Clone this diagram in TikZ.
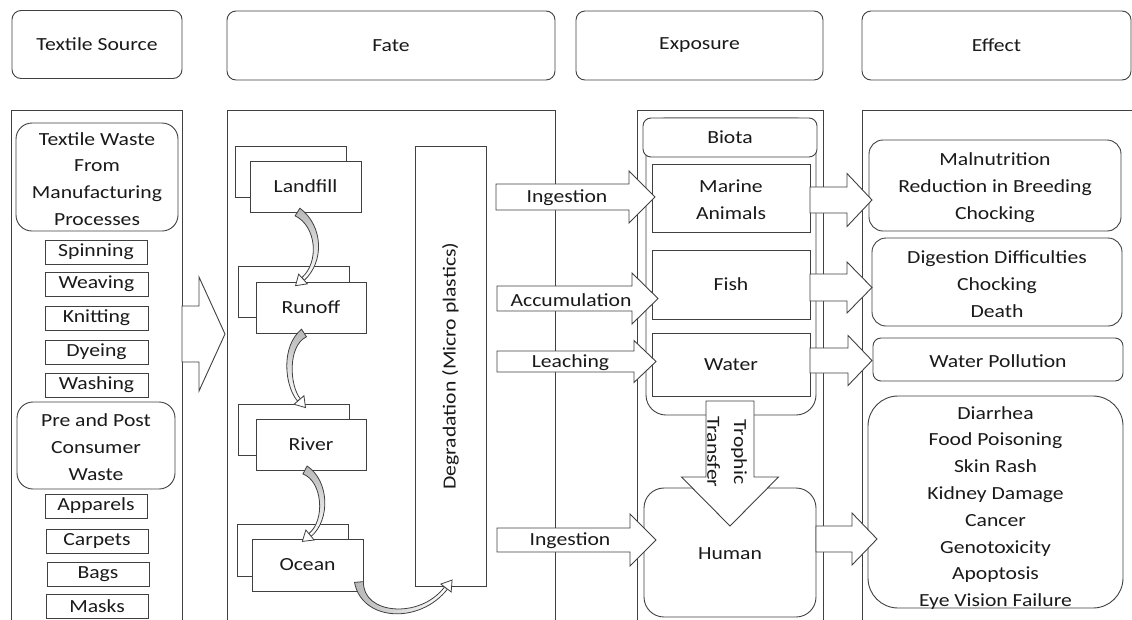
\documentclass[tikz,border=0pt]{standalone}
\usepackage{fontspec}
\setmainfont{Carlito}[FakeStretch=1.17]
\usetikzlibrary{calc}
\definecolor{lc}{HTML}{404040}
\definecolor{tc}{HTML}{1A1A1A}
\tikzset{
  nb/.style={draw=lc, line width=0.9pt, fill=white, text=tc, inner sep=0pt, align=center,
    font=\fontsize{18.5}{26.8}\selectfont},
  hdr/.style={nb, rounded corners=9pt},
  sq/.style={nb},
  rb/.style={nb, rounded corners=14pt},
  panel/.style={draw=lc, line width=0.9pt},
  barrow/.style={draw=lc, line width=0.9pt, fill=white, line join=miter},
  lbl/.style={text=tc, inner sep=0pt, align=center, font=\fontsize{18.5}{26.8}\selectfont},
  carr/.style={draw=lc, line width=0.8pt},
}
% horizontal block arrow: tail x, head-base x, tip x, centre y, shaft half, head half
\newcommand{\harr}[6]{\draw[barrow] (#1,#4-#5) -- (#2,#4-#5) -- (#2,#4-#6) -- (#3,#4) -- (#2,#4+#6) -- (#2,#4+#5) -- (#1,#4+#5) -- cycle;}
% curved arrow: start, control 1, control 2, end (head base), shading options
\newcommand{\curvearr}[5]{%
  \path[carr, #5]
    ($(#1)!4.5pt!90:(#2)$) .. controls ($(#2)!3.5pt!90:(#3)$) and ($(#3)!2.5pt!-90:(#2)$) .. ($(#4)!1.8pt!-90:(#3)$)
    -- ($(#4)!1.8pt!90:(#3)$) .. controls ($(#3)!2.5pt!90:(#2)$) and ($(#2)!3.5pt!-90:(#3)$) .. ($(#1)!4.5pt!-90:(#2)$) -- cycle;
  \draw[carr, fill=white, line join=miter] ($(#4)!6.5pt!90:(#3)$) -- ($(#4)!-10pt!(#3)$) -- ($(#4)!6.5pt!-90:(#3)$) -- cycle;
}
\begin{document}
\begin{tikzpicture}[x=1pt,y=-1pt]
\path[use as bounding box] (0,0) rectangle (1132,619);
\clip (0,0) rectangle (1132,619);

% headers
\node[hdr, minimum width=170, minimum height=68] (h1) at (97,44.5) {Textile Source};
\node[hdr, minimum width=328, minimum height=69] (h2) at (391,45.5) {Fate};
\node[hdr, minimum width=247, minimum height=69] (h3) at (699.5,45.5) {Exposure};
\node[hdr, minimum width=269, minimum height=69] (h4) at (996.5,45.5) {Effect};

% column panels (open at the bottom)
\draw[panel] (11,625) -- (11,110) -- (182,110) -- (182,625);
\draw[panel] (227,625) -- (227,110) -- (555,110) -- (555,625);
\draw[panel] (637,625) -- (637,110) -- (823,110) -- (823,625);
\draw[panel] (862,625) -- (862,110) -- (1135,110);

% column 1
\node[rb, rounded corners=16pt, minimum width=162, minimum height=108] (tw) at (97,177) {};
\node[lbl] (twt) at (97,179) {Textile Waste\\From\\Manufacturing\\Processes};
\node[sq, minimum width=102, minimum height=24] (spin) at (96,252) {Spinning};
\node[sq, minimum width=103, minimum height=24] (weav) at (96.5,284) {Weaving};
\node[sq, minimum width=103, minimum height=24] (knit) at (96.5,318) {Knitting};
\node[sq, minimum width=103, minimum height=24] (dye) at (96.5,352) {Dyeing};
\node[sq, minimum width=103, minimum height=24] (wash) at (96.5,385) {Washing};
\node[rb, rounded corners=16pt, minimum width=158, minimum height=87] (pp) at (96,445.5) {};
\node[lbl] (ppt) at (96,447) {Pre and Post\\Consumer\\Waste};
\node[sq, minimum width=102, minimum height=24] (app) at (96,506) {Apparels};
\node[sq, minimum width=102, minimum height=24] (carp) at (97,541) {Carpets};
\node[sq, minimum width=102, minimum height=24] (bags) at (98,574) {Bags};
\node[sq, minimum width=102, minimum height=24] (masks) at (97,606) {Masks};

% big arrow source -> fate
\harr{182}{199}{225}{334}{28}{57}

% column 2
\node[sq, minimum width=111, minimum height=51] (lfb) at (291,171.5) {};
\node[sq, minimum width=111, minimum height=51] (lf) at (305.5,186.5) {Landfill};
\node[sq, minimum width=111, minimum height=51] (rob) at (293.5,291.5) {};
\node[sq, minimum width=110, minimum height=51] (ro) at (311,307.5) {Runoff};
\node[sq, minimum width=111, minimum height=51] (rib) at (293.5,429.5) {};
\node[sq, minimum width=110, minimum height=51] (ri) at (311,444.5) {River};
\node[sq, minimum width=111, minimum height=52] (ocb) at (292.5,550) {};
\node[sq, minimum width=111, minimum height=52] (oc) at (307.5,565) {Ocean};
\node[sq, minimum width=71, minimum height=440] (degr) at (450.5,366) {};
\node[lbl, rotate=90] (degrt) at (degr.center) {Degradation (Micro plastics)};

% curved arrows
\coordinate (a1s) at (297.5,212); \coordinate (a1c) at (320,226); \coordinate (a1d) at (322,262); \coordinate (a1e) at (303,279);
\curvearr{a1s}{a1c}{a1d}{a1e}{top color=black!28, bottom color=white}
\coordinate (a2s) at (304,333); \coordinate (a2c) at (284,346); \coordinate (a2d) at (287,386); \coordinate (a2e) at (299,400);
\curvearr{a2s}{a2c}{a2d}{a2e}{top color=black!28, bottom color=white}
\coordinate (a3s) at (305,470); \coordinate (a3c) at (326,481); \coordinate (a3d) at (328,520); \coordinate (a3e) at (310,535);
\curvearr{a3s}{a3c}{a3d}{a3e}{top color=black!28, bottom color=white}
\coordinate (a4s) at (359,582); \coordinate (a4c) at (362,618); \coordinate (a4d) at (420,622); \coordinate (a4e) at (446,588);
\curvearr{a4s}{a4c}{a4d}{a4e}{left color=black!28, right color=white}

% column 3
\node[rb, rounded corners=20pt, minimum width=170, minimum height=297] (grp) at (731,266.5) {};
\node[rb, rounded corners=8pt, minimum width=174, minimum height=39] (biota) at (730,137.5) {Biota};
\node[sq, minimum width=158, minimum height=68] (marine) at (731,198) {};
\node[lbl] (marinet) at (731,200) {Marine\\Animals};
\node[sq, minimum width=158, minimum height=69] (fish) at (731,284.5) {Fish};
\node[sq, minimum width=158, minimum height=63] (water) at (731,364.5) {Water};
\node[rb, rounded corners=20pt, minimum width=172, minimum height=129] (human) at (730,552.5) {};
\node[lbl] (humant) at (730,554) {Human};

% trophic transfer arrow
\draw[barrow] (706,401) -- (754,401) -- (754,477) -- (778.5,477) -- (730,526) -- (681.5,477) -- (706,477) -- cycle;
\node[lbl, rotate=-90] (troph) at (727,452) {Trophic\\Transfer};

% fate -> exposure arrows
\harr{496}{629}{655}{197}{13}{26}
\node[lbl] (ing1) at (567,198) {Ingestion};
\harr{497}{632}{658}{298.5}{12.5}{25.5}
\node[lbl] (acc) at (571,300) {Accumulation};
\harr{497}{634}{656}{361.5}{10.5}{21}
\node[lbl] (lea) at (570.5,362.5) {Leaching};
\harr{497}{630}{656}{540}{12}{26}
\node[lbl] (ing2) at (570,541) {Ingestion};

% column 4
\node[rb, rounded corners=14pt, minimum width=252, minimum height=91] (e1) at (995,185.5) {};
\node[lbl] (e1t) at (995,187.5) {Malnutrition\\Reduction in Breeding\\Chocking};
\node[rb, rounded corners=14pt, minimum width=250, minimum height=88] (e2) at (997,282) {};
\node[lbl] (e2t) at (997,284) {Digestion Difficulties\\Chocking\\Death};
\node[rb, rounded corners=8pt, minimum width=250, minimum height=43] (e3) at (998,359.5) {};
\node[lbl] (e3t) at (998,361) {Water Pollution};
\node[rb, rounded corners=30pt, minimum width=255, minimum height=212] (e4) at (995.5,502) {};
\node[lbl] (e4t) at (995.5,508) {Diarrhea\\Food Poisoning\\Skin Rash\\Kidney Damage\\Cancer\\Genotoxicity\\Apoptosis\\Eye Vision Failure};

% exposure -> effect arrows
\harr{810}{847}{872}{200}{13}{26.5}
\harr{810}{847}{872}{287.5}{13.5}{25.5}
\harr{810}{848}{872}{360.5}{12.5}{25}
\harr{816}{852}{877}{539}{13}{26}
\end{tikzpicture}
\end{document}
